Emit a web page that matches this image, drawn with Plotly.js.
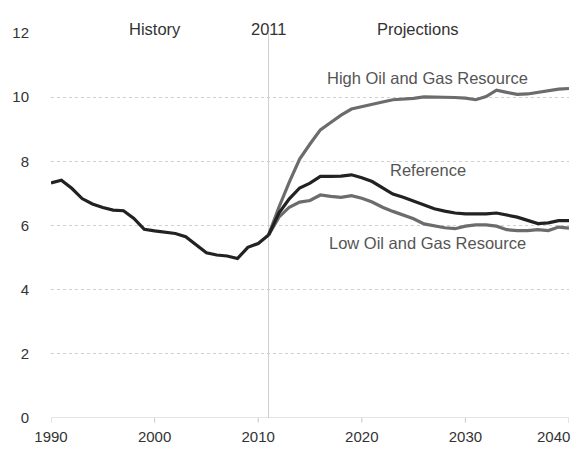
<!DOCTYPE html>
<html><head><meta charset="utf-8">
<script src="https://cdn.plot.ly/plotly-3.0.1.min.js"></script>
<style>html,body{margin:0;padding:0;background:#fff}</style>
</head><body><div id="chart" style="width:580px;height:449px"></div>
<script>
var histYears = [1990,1991,1992,1993,1994,1995,1996,1997,1998,1999,2000,2001,2002,2003,2004,2005,2006,2007,2008,2009,2010,2011];
var histValues = [7.33,7.41,7.16,6.84,6.67,6.56,6.48,6.46,6.22,5.88,5.83,5.80,5.75,5.65,5.39,5.15,5.08,5.05,4.97,5.32,5.44,5.70];
var projYears = [2011,2012,2013,2014,2015,2016,2017,2018,2019,2020,2021,2022,2023,2024,2025,2026,2027,2028,2029,2030,2031,2032,2033,2034,2035,2036,2037,2038,2039,2040];
var highValues = [5.70,6.57,7.35,8.07,8.54,8.98,9.21,9.44,9.63,9.71,9.78,9.85,9.92,9.94,9.96,10.01,10.01,10.01,9.99,9.97,9.92,10.02,10.22,10.15,10.09,10.10,10.15,10.22,10.25,10.27];
var refValues = [5.70,6.39,6.83,7.17,7.32,7.53,7.53,7.54,7.58,7.49,7.37,7.16,6.98,6.88,6.76,6.62,6.52,6.45,6.39,6.36,6.36,6.36,6.39,6.33,6.26,6.16,6.06,6.08,6.15,6.15];
var lowValues = [5.70,6.26,6.57,6.73,6.78,6.95,6.91,6.88,6.93,6.85,6.73,6.57,6.44,6.33,6.21,6.05,5.98,5.93,5.90,5.98,6.02,6.02,5.98,5.87,5.84,5.84,5.87,5.84,5.95,5.92];
var xTicks = [1990,2000,2010,2020,2030,2040];
var yTicks = [0,2,4,6,8,10,12];
var seriesLabels = ["High Oil and Gas Resource","Reference","Low Oil and Gas Resource"];
var headerLabels = ["History","2011","Projections"];

var dark = "#222222", gray = "#6c6c6c";
var traces = [
  {x: projYears, y: highValues, mode: "lines", line: {color: gray, width: 3.2}, name: seriesLabels[0]},
  {x: projYears, y: lowValues, mode: "lines", line: {color: gray, width: 3.2}, name: seriesLabels[2]},
  {x: projYears, y: refValues, mode: "lines", line: {color: dark, width: 3.2}, name: seriesLabels[1]},
  {x: histYears, y: histValues, mode: "lines", line: {color: dark, width: 3.2}, name: "History"}
];
var fam = "Liberation Sans, Arial, sans-serif";
var tickFont = {family: fam, size: 15, color: "#333"};
var headFont = {family: fam, size: 16.5, color: "#333"};
var annFont = {family: fam, size: 16.5, color: "#555"};
var lastTick = xTicks[xTicks.length - 1];
var layout = {
  width: 580, height: 449,
  margin: {l: 51, r: 11, t: 33, b: 31},
  showlegend: false,
  paper_bgcolor: "#fff", plot_bgcolor: "#fff",
  font: tickFont,
  xaxis: {range: [1990, 2040], tickvals: xTicks.slice(0, -1), ticktext: xTicks.slice(0, -1).map(String), showgrid: false, zeroline: false,
          showline: false, ticks: "", ticklabelstandoff: 8, tickfont: tickFont},
  yaxis: {range: [0, 12], tickvals: yTicks, showgrid: true, gridcolor: "#d0d0d0", griddash: "dot", gridwidth: 1,
          zeroline: false, showline: false, ticks: "", ticklabelstandoff: 21, tickfont: tickFont},
  shapes: [
    {type: "line", xref: "x", yref: "y", x0: 2011, x1: 2011, y0: 0, y1: 12, line: {color: "#cfcfcf", width: 1}, layer: "below"},
    {type: "line", xref: "x", yref: "y", x0: 1990, x1: 2040, y0: 0, y1: 0, line: {color: "#c8c8c8", width: 1}, layer: "below"}
  ].concat(xTicks.map(function(t){return {type:"line", xref:"x", yref:"paper", x0:t, x1:t, y0:0, y1:-0.012, line:{color:"#c8c8c8", width:1}};})),
  annotations: [
    {x: 2026.3, y: 10.59, xref: "x", yref: "y", text: seriesLabels[0], showarrow: false, font: annFont},
    {x: 2026.4, y: 7.73, xref: "x", yref: "y", text: seriesLabels[1], showarrow: false, font: annFont},
    {x: 2026.3, y: 5.45, xref: "x", yref: "y", text: seriesLabels[2], showarrow: false, font: annFont},
    {x: 2000.0, y: 1, xref: "x", yref: "paper", yshift: 15, text: headerLabels[0], showarrow: false, font: headFont},
    {x: 2011, y: 1, xref: "x", yref: "paper", yshift: 15, text: headerLabels[1], showarrow: false, font: headFont},
    {x: 2025.4, y: 1, xref: "x", yref: "paper", yshift: 15, text: headerLabels[2], showarrow: false, font: headFont},
    {x: lastTick, y: 0, xref: "x", yref: "y", xanchor: "right", yanchor: "top", xshift: 3, yshift: -8, text: String(lastTick), showarrow: false, font: tickFont}
  ]
};
Plotly.newPlot("chart", traces, layout, {staticPlot: true, displayModeBar: false});
</script></body></html>
